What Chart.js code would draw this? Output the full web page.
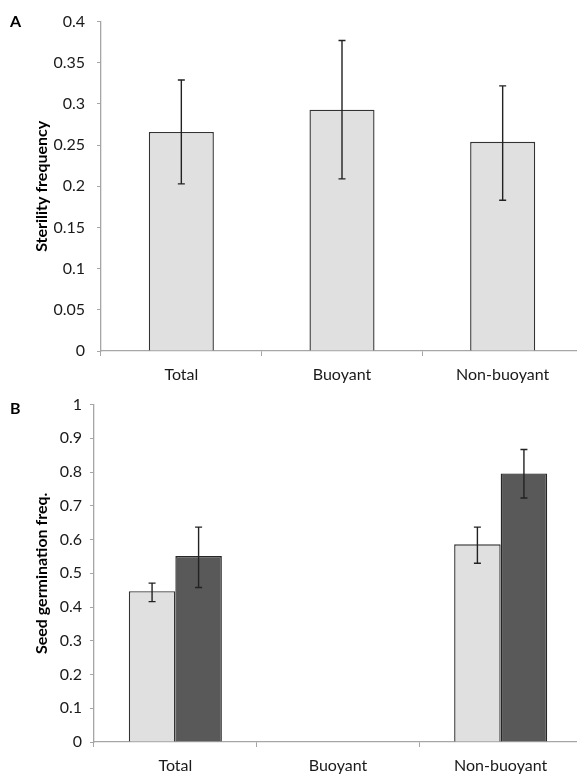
<!DOCTYPE html>
<html>
<head>
<meta charset="utf-8">
<script src="https://cdn.jsdelivr.net/npm/chart.js@4.4.1/dist/chart.umd.min.js"></script>
<style>
  html, body { margin: 0; padding: 0; background: #fff; overflow: hidden; }
  .panel { position: relative; width: 577px; height: 387px; overflow: hidden; }
  .letter { position: absolute; left: 10px; font: bold 16px Lato, sans-serif; color: #000; }
</style>
</head>
<body>
<div class="panel">
  <canvas id="chart_a" width="583" height="387"></canvas>
  <div class="letter" style="top:11px">A</div>
</div>
<div class="panel">
  <canvas id="chart_b" width="582" height="387"></canvas>
  <div class="letter" style="top:11px">B</div>
</div>
<script>
const categories = ['Total', 'Buoyant', 'Non-buoyant'];

// panel A: sterility frequency
const sterility = [0.266, 0.293, 0.254];
const sterilityLow = [0.203, 0.209, 0.183];
const sterilityHigh = [0.329, 0.377, 0.322];

// panel B: seed germination, two groups (light / dark bars); Buoyant has no data
const germLight = [0.447, null, 0.586];
const germLightLow = [0.416, null, 0.530];
const germLightHigh = [0.471, null, 0.637];
const germDark = [0.551, null, 0.796];
const germDarkLow = [0.458, null, 0.723];
const germDarkHigh = [0.637, null, 0.867];

const axisGrey = '#a6a6a6';
const fontFamily = 'Lato, sans-serif';

// draws error bars from each dataset's low/high arrays
const errorBars = {
  id: 'errorBars',
  afterDatasetsDraw(chart) {
    const ctx = chart.ctx;
    const y = chart.scales.y;
    chart.data.datasets.forEach((ds, i) => {
      const meta = chart.getDatasetMeta(i);
      meta.data.forEach((bar, j) => {
        if (ds.low[j] == null) return;
        const yl = y.getPixelForValue(ds.low[j]);
        const yh = y.getPixelForValue(ds.high[j]);
        ctx.save();
        ctx.strokeStyle = '#222';
        ctx.lineWidth = 1.4;
        ctx.beginPath();
        ctx.moveTo(bar.x, yl); ctx.lineTo(bar.x, yh);
        ctx.moveTo(bar.x - 3.5, yl); ctx.lineTo(bar.x + 3.5, yl);
        ctx.moveTo(bar.x - 3.5, yh); ctx.lineTo(bar.x + 3.5, yh);
        ctx.stroke();
        ctx.restore();
      });
    });
  }
};

function makeOptions(opt) {
  return {
    responsive: false,
    animation: false,
    layout: { padding: { top: opt.top, left: 0, right: 0, bottom: 0 } },
    plugins: { legend: { display: false }, tooltip: { enabled: false } },
    scales: {
      x: {
        grid: { display: true, drawOnChartArea: false, color: axisGrey, tickLength: 5, offset: true },
        border: { color: axisGrey, width: 1.3 },
        ticks: { color: '#1a1a1a', padding: 9, font: { family: fontFamily, size: 16 } },
        afterFit(scale) { scale.height = opt.xHeight; }
      },
      y: {
        min: 0,
        max: opt.max,
        grid: { drawOnChartArea: false, color: axisGrey, tickLength: 4 },
        border: { color: axisGrey, width: 1.3 },
        ticks: {
          stepSize: opt.step,
          color: '#1a1a1a',
          padding: opt.tickPad,
          font: { family: fontFamily, size: 16 },
          callback: v => String(+v.toFixed(2))
        },
        title: {
          display: true,
          text: opt.title,
          color: '#000',
          padding: { top: opt.titlePad, bottom: 0 },
          font: { family: fontFamily, size: 16, weight: 'bold' }
        },
        afterFit(scale) { scale.width = opt.yWidth; }
      }
    }
  };
}

const data_a = {
  labels: categories,
  datasets: [{
    data: sterility,
    low: sterilityLow,
    high: sterilityHigh,
    backgroundColor: '#e0e0e0',
    borderColor: '#333',
    borderWidth: 1.4,
    barPercentage: 0.405,
    categoryPercentage: 1
  }]
};
const chart_a = new Chart(document.getElementById('chart_a'), {
  type: 'bar',
  data: data_a,
  options: makeOptions({ top: 15, xHeight: 36, max: 0.4, step: 0.05, tickPad: 12,
    title: 'Sterility frequency', titlePad: 32, yWidth: 101 }),
  plugins: [errorBars]
});

const data_b = {
  labels: categories,
  datasets: [{
    data: germLight,
    low: germLightLow,
    high: germLightHigh,
    backgroundColor: '#e0e0e0',
    borderColor: '#333',
    borderWidth: 1.4,
    barPercentage: 1,
    categoryPercentage: 0.572
  }, {
    data: germDark,
    low: germDarkLow,
    high: germDarkHigh,
    backgroundColor: '#595959',
    borderColor: '#262626',
    borderWidth: 1.4,
    barPercentage: 1,
    categoryPercentage: 0.572
  }]
};
const chart_b = new Chart(document.getElementById('chart_b'), {
  type: 'bar',
  data: data_b,
  options: makeOptions({ top: 17, xHeight: 32, max: 1, step: 0.1, tickPad: 8,
    title: 'Seed germination freq.', titlePad: 32, yWidth: 94 }),
  plugins: [errorBars]
});
</script>
</body>
</html>
